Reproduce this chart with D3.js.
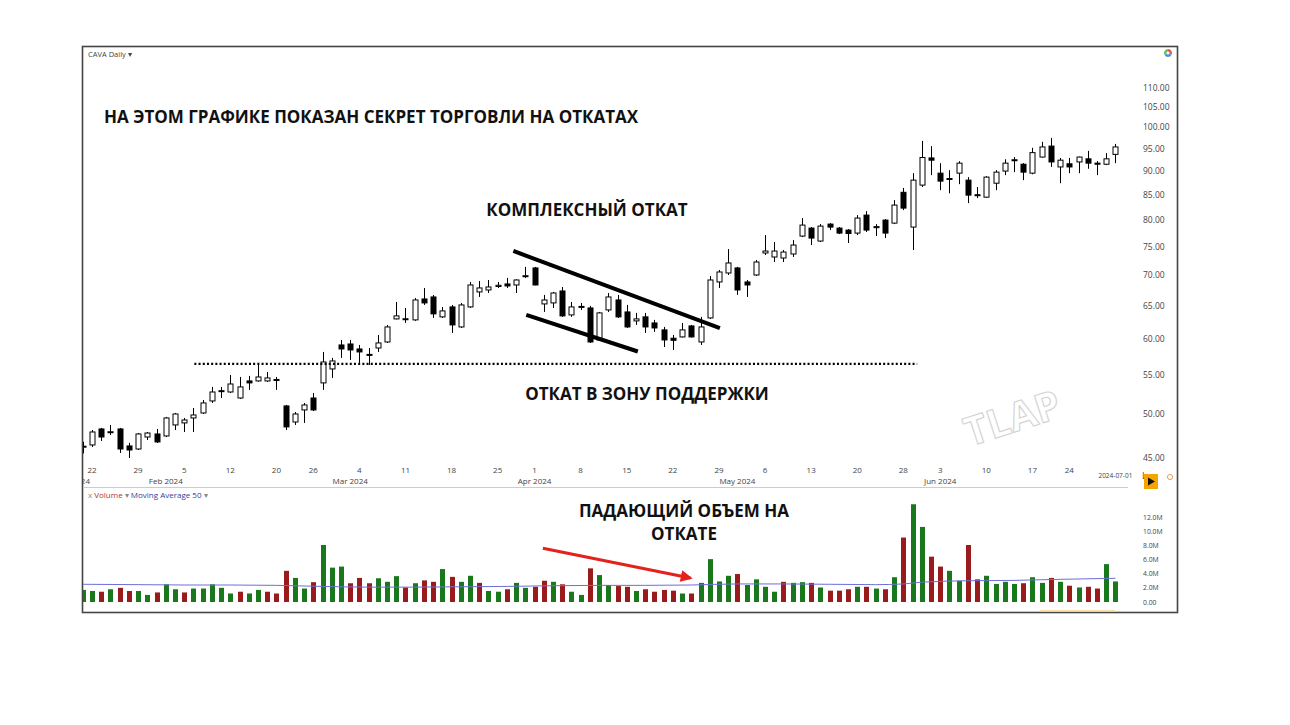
<!DOCTYPE html>
<html>
<head>
<meta charset="utf-8">
<script src="https://cdn.jsdelivr.net/npm/d3@7"></script>
<style>
  body { margin: 0; background: #fff; }
  svg { display: block; }
  .ax { font-family: "Open Sans", "Noto Sans", sans-serif; fill: #444; }
  .note { font-family: "Open Sans", sans-serif; font-weight: 700; fill: #111; }
</style>
</head>
<body>
<script>
// trading days shown on the chart (first one is clipped at the left edge)
var dates = [
  "2024-01-19","2024-01-22","2024-01-23","2024-01-24","2024-01-25","2024-01-26","2024-01-29","2024-01-30","2024-01-31",
  "2024-02-01","2024-02-02","2024-02-05","2024-02-06","2024-02-07","2024-02-08","2024-02-09","2024-02-12","2024-02-13",
  "2024-02-14","2024-02-15","2024-02-16","2024-02-20","2024-02-21","2024-02-22","2024-02-23","2024-02-26","2024-02-27",
  "2024-02-28","2024-02-29","2024-03-01","2024-03-04","2024-03-05","2024-03-06","2024-03-07","2024-03-08","2024-03-11",
  "2024-03-12","2024-03-13","2024-03-14","2024-03-15","2024-03-18","2024-03-19","2024-03-20","2024-03-21","2024-03-22",
  "2024-03-25","2024-03-26","2024-03-27","2024-03-28","2024-04-01","2024-04-02","2024-04-03","2024-04-04","2024-04-05",
  "2024-04-08","2024-04-09","2024-04-10","2024-04-11","2024-04-12","2024-04-15","2024-04-16","2024-04-17","2024-04-18",
  "2024-04-19","2024-04-22","2024-04-23","2024-04-24","2024-04-25","2024-04-26","2024-04-29","2024-04-30","2024-05-01",
  "2024-05-02","2024-05-03","2024-05-06","2024-05-07","2024-05-08","2024-05-09","2024-05-10","2024-05-13","2024-05-14",
  "2024-05-15","2024-05-16","2024-05-17","2024-05-20","2024-05-21","2024-05-22","2024-05-23","2024-05-24","2024-05-28",
  "2024-05-29","2024-05-30","2024-05-31","2024-06-03","2024-06-04","2024-06-05","2024-06-06","2024-06-07","2024-06-10",
  "2024-06-11","2024-06-12","2024-06-13","2024-06-14","2024-06-17","2024-06-18","2024-06-20","2024-06-21","2024-06-24",
  "2024-06-25","2024-06-26","2024-06-27","2024-06-28","2024-07-01"
];

var open = [46.2,46.44,48.27,47.85,48.27,46.33,45.99,47.34,47.69,47.46,48.74,48.98,49.57,50.17,51.65,52.85,52.78,52.02,
  54.21,54.21,54.21,54.4,51.03,49.09,50.54,52.02,53.95,55.8,59.13,59.27,58.56,57.8,58.7,59.56,62.97,62.9,62.82,66.08,
  66.4,63.28,64.82,61.76,64.82,67.21,67.53,68.1,68.52,68.35,69.8,71.22,65.29,65.45,67.37,63.58,64.8,64.66,59.85,64.35,
  65.92,64.04,62.67,63.28,62.36,61.32,60.1,60.29,61.91,59.56,63.12,68.85,70.36,71.22,68.85,70.02,73.84,73.13,72.95,
  73.66,76.92,78.42,76.0,79.18,78.42,78.04,77.48,80.92,78.5,79.95,79.37,85.5,78.61,87.0,92.9,89.55,88.2,89.55,88.05,
  85.0,84.5,87.4,90.0,92.3,91.5,89.55,93.1,95.6,90.9,91.6,92.0,92.7,91.74,91.5,93.7];
var high = [46.8,48.15,48.39,48.74,48.39,46.67,47.8,47.92,48.27,49.69,50.17,49.57,50.78,51.77,53.43,53.43,55.0,54.73,
  54.87,56.34,55.4,54.73,51.15,50.29,51.4,52.65,58.14,57.31,59.85,59.85,59.13,58.7,60.58,62.06,65.6,64.66,66.24,67.86,
  66.72,64.82,65.13,65.45,68.85,69.01,69.18,68.85,69.52,69.3,71.4,71.4,66.72,67.21,68.02,65.6,65.45,64.98,64.04,67.04,
  66.72,65.13,63.89,63.89,62.82,61.76,60.58,62.36,62.06,63.28,69.85,70.87,74.55,71.4,69.18,72.6,77.11,75.82,74.37,
  76.18,80.34,78.61,79.18,79.37,78.61,78.23,80.92,81.7,79.18,80.14,83.9,86.4,89.55,96.8,95.6,91.74,90.2,92.18,88.7,
  86.6,88.9,90.2,92.6,93.1,91.74,95.2,96.6,97.5,92.9,92.9,93.2,94.5,92.2,94.0,96.1];
var low = [45.5,46.21,46.89,47.57,45.55,45.0,45.88,47.0,46.67,47.34,48.15,47.92,47.92,50.05,51.4,52.02,52.65,51.9,
  53.04,54.1,54.08,53.04,48.15,48.74,48.98,50.4,53.04,54.6,57.31,57.03,56.62,56.34,58.14,59.42,62.9,62.36,62.67,65.13,
  63.12,63.12,60.87,61.61,64.66,66.4,67.04,67.86,67.86,67.04,69.52,68.3,64.04,64.66,63.28,63.28,64.35,59.42,59.7,64.04,
  63.12,61.61,62.06,60.87,61.02,58.84,58.42,60.2,60.2,59.13,62.97,67.86,70.02,66.72,66.4,69.85,73.48,72.25,72.25,
  73.13,76.73,75.27,75.82,78.04,77.29,75.64,77.11,77.67,76.92,76.55,79.18,81.9,74.37,86.6,89.12,85.95,85.3,87.2,83.3,
  84.3,84.4,85.95,89.12,89.77,88.05,89.3,93.0,90.9,87.4,89.55,89.55,90.5,89.12,91.3,91.74];
var close = [46.3,47.92,47.34,47.95,45.99,45.88,47.69,47.8,46.78,49.57,50.05,49.33,49.93,51.4,52.78,52.95,53.81,53.43,
  53.95,54.73,54.6,54.3,48.51,50.05,51.15,50.54,56.75,56.89,58.56,58.42,58.14,57.7,59.42,61.76,63.43,63.0,65.92,65.45,
  63.74,64.2,62.06,65.13,68.35,67.86,68.02,68.3,68.19,69.18,69.9,68.35,65.92,67.04,63.43,64.82,64.9,59.56,63.89,66.4,
  63.28,61.76,62.97,61.76,61.61,59.85,59.8,61.32,60.29,61.76,69.18,70.53,72.08,67.53,68.35,72.25,74.19,74.19,74.01,
  75.27,78.99,76.55,78.8,78.61,77.48,77.4,80.34,78.04,78.7,77.48,82.9,82.3,88.05,93.0,92.4,87.84,88.4,91.74,84.92,
  84.8,88.7,89.77,91.74,92.5,89.77,94.1,95.4,92.0,92.4,90.9,93.1,91.74,91.5,92.7,95.4];
// volume in millions
var volume = [1.7,1.55,1.45,1.8,2.0,1.55,1.55,1.0,1.35,2.5,1.8,1.35,1.9,1.9,2.5,2.0,1.2,1.45,1.2,1.7,1.45,1.2,4.4,3.4,
  1.9,2.8,8.05,4.85,5.0,2.65,3.4,2.65,3.35,2.85,3.65,2.05,2.65,3.05,2.85,4.65,3.55,2.85,3.7,2.7,1.55,1.45,1.8,2.7,2.0,
  2.15,3.0,2.85,2.5,1.45,1.0,4.75,3.8,2.4,2.25,2.15,1.55,1.8,1.45,1.7,1.6,1.2,1.2,2.7,6.05,2.9,3.7,3.95,2.4,3.2,2.15,
  1.45,2.85,2.7,2.8,2.7,2.05,1.6,1.6,1.8,2.15,2.15,1.9,1.8,3.5,9.1,13.8,10.6,6.4,5.0,4.4,3.0,8.05,3.2,3.7,2.55,2.85,
  2.55,2.65,3.5,2.7,3.4,2.85,2.3,2.05,2.15,1.9,5.35,2.9];
// 50-day volume average, read at a few days (index into dates, millions)
var maDay = [0,6,11,16,21,26,31,36,41,46,51,56,61,66,71,76,81,86,89,91,96,101,106,112];
var maVol = [2.5,2.45,2.4,2.4,2.35,2.2,2.1,2.1,2.15,2.2,2.3,2.35,2.35,2.4,2.55,2.55,2.5,2.45,2.55,2.8,3.0,3.05,3.2,3.35];

var priceTicks = [45,50,55,60,65,70,75,80,85,90,95,100,105,110];
var volTicks = [0,2,4,6,8,10,12];
var dayTicks = ["2024-01-22","2024-01-29","2024-02-05","2024-02-12","2024-02-20","2024-02-26","2024-03-04","2024-03-11",
  "2024-03-18","2024-03-25","2024-04-01","2024-04-08","2024-04-15","2024-04-22","2024-04-29","2024-05-06","2024-05-13",
  "2024-05-20","2024-05-28","2024-06-03","2024-06-10","2024-06-17","2024-06-24"];
var monthTicks = ["2024-02-01","2024-03-01","2024-04-01","2024-05-01","2024-06-03"];
var monthLabels = ["Feb 2024","Mar 2024","Apr 2024","May 2024","Jun 2024"];

// annotation geometry: [day index, price] and [day index, volume]
var upperTrend = [[46.7, 74.2], [69.1, 61.6]];
var lowerTrend = [[48.1, 63.6], [60.2, 58.2]];
var supportLevel = 56.5, supportFrom = 12.1, supportTo = 90.5;
var volArrow = [[49.9, 7.6], [65.9, 3.4]];

var svg = d3.select("body").append("svg").attr("width", 1290).attr("height", 725);

var x = d3.scaleLinear().domain([0, dates.length - 1]).range([82.8, 1115.4]);
var y = d3.scaleLog().domain([45, 110]).range([458, 88]);
var yv = d3.scaleLinear().domain([0, 12]).range([602, 517]);
var idx = function(d){ return dates.indexOf(d); };

var defs = svg.append("defs");
defs.append("clipPath").attr("id", "cp").append("rect").attr("x", 83).attr("y", 47).attr("width", 1045).attr("height", 440);
defs.append("clipPath").attr("id", "cv").append("rect").attr("x", 83).attr("y", 488).attr("width", 1045).attr("height", 124);
defs.append("marker").attr("id", "ah").attr("viewBox", "0 0 10 10").attr("refX", 8).attr("refY", 5)
  .attr("markerWidth", 4).attr("markerHeight", 4).attr("orient", "auto")
  .append("path").attr("d", "M0,0L10,5L0,10z").attr("fill", "#e3221c");

// frame
svg.append("rect").attr("x", 82.5).attr("y", 46.5).attr("width", 1095).attr("height", 566)
  .attr("fill", "#fff").attr("stroke", "#444").attr("stroke-width", 1.6);
svg.append("line").attr("x1", 83).attr("x2", 1128).attr("y1", 487.5).attr("y2", 487.5).attr("stroke", "#ccc");

svg.append("text").attr("class", "ax").attr("x", 88).attr("y", 57).attr("font-size", 7.5).text("CAVA Daily  \u25BE");

// watermark
svg.append("text").attr("x", 1013).attr("y", 432).attr("text-anchor", "middle")
  .attr("transform", "rotate(-18,1013,420)")
  .attr("font-family", "Open Sans, sans-serif").attr("font-size", 40).attr("font-weight", 700)
  .attr("fill", "none").attr("stroke", "#d2d2d2").attr("stroke-width", 1.1).text("TLAP");

// price axis
svg.append("g").selectAll("text").data(priceTicks).join("text").attr("class", "ax")
  .attr("x", 1143).attr("y", function(d){ return y(d) + 3; }).attr("font-size", 8.5).attr("fill", "#333")
  .text(function(d){ return d.toFixed(2); });

// date axis
var g = svg.append("g").attr("clip-path", "url(#cp)");
g.selectAll(".dt").data(dayTicks).join("text").attr("class", "ax")
  .attr("x", function(d){ return x(idx(d)); }).attr("y", 473).attr("font-size", 8).attr("text-anchor", "middle")
  .text(function(d){ return +d.slice(8); });
g.selectAll(".mt").data(monthTicks).join("text").attr("class", "ax")
  .attr("x", function(d){ return x(idx(d)); }).attr("y", 484).attr("font-size", 8).attr("text-anchor", "middle")
  .text(function(d, i){ return monthLabels[i]; });
g.append("text").attr("class", "ax").attr("x", 90).attr("y", 484).attr("font-size", 8).attr("text-anchor", "end").text("Jan 2024");
svg.append("text").attr("class", "ax").attr("x", x(dates.length - 1)).attr("y", 478).attr("font-size", 6.5)
  .attr("text-anchor", "middle").text(dates[dates.length - 1]);
svg.append("text").attr("class", "ax").attr("x", 1142).attr("y", 479).attr("font-size", 9).attr("fill", "#999").text("Log");
svg.append("rect").attr("x", 1144).attr("y", 474).attr("width", 14).attr("height", 15).attr("fill", "#f5a400");
svg.append("path").attr("d", "M1148,477.5L1155,481.5L1148,485.5z").attr("fill", "#111");
svg.append("circle").attr("cx", 1170).attr("cy", 477).attr("r", 2.6).attr("fill", "none").attr("stroke", "#f0a050");
// settings badge, top right
[["#e8574a", 0], ["#4c8fdc", 120], ["#6cbf5a", 240]].forEach(function(s){
  svg.append("path").attr("transform", "translate(1168,53)")
    .attr("d", d3.arc().innerRadius(1.5).outerRadius(4).startAngle(s[1] * Math.PI / 180).endAngle((s[1] + 120) * Math.PI / 180)())
    .attr("fill", s[0]);
});

// candles
var c = g.selectAll(".cd").data(dates).join("g");
c.append("line").attr("x1", function(d, i){ return Math.round(x(i)) + 0.5; })
  .attr("x2", function(d, i){ return Math.round(x(i)) + 0.5; })
  .attr("y1", function(d, i){ return y(high[i]); }).attr("y2", function(d, i){ return y(low[i]); })
  .attr("stroke", "#000").attr("stroke-width", 1);
c.append("rect").attr("x", function(d, i){ return Math.round(x(i)) - 2; }).attr("width", 5)
  .attr("y", function(d, i){ return y(Math.max(open[i], close[i])); })
  .attr("height", function(d, i){ return Math.max(1, Math.abs(y(open[i]) - y(close[i]))); })
  .attr("fill", function(d, i){ return close[i] >= open[i] ? "#fff" : "#000"; })
  .attr("stroke", "#000").attr("stroke-width", 1);

// support line and trend lines
g.append("line").attr("x1", x(supportFrom)).attr("x2", x(supportTo))
  .attr("y1", y(supportLevel)).attr("y2", y(supportLevel))
  .attr("stroke", "#000").attr("stroke-width", 2.2).attr("stroke-dasharray", "2,2.2");
[upperTrend, lowerTrend].forEach(function(t){
  svg.append("line").attr("x1", x(t[0][0])).attr("y1", y(t[0][1])).attr("x2", x(t[1][0])).attr("y2", y(t[1][1]))
    .attr("stroke", "#000").attr("stroke-width", 4);
});

// volume panel
var gv = svg.append("g").attr("clip-path", "url(#cv)");
gv.selectAll("rect").data(volume).join("rect")
  .attr("x", function(d, i){ return Math.round(x(i)) - 2; }).attr("width", 5)
  .attr("y", function(d){ return yv(d); }).attr("height", function(d){ return yv(0) - yv(d); })
  .attr("fill", function(d, i){ return i > 0 && close[i] < close[i - 1] ? "#9a1b1b" : "#18781b"; });
gv.append("path").datum(maDay).attr("fill", "none").attr("stroke", "#6d6fd6").attr("stroke-width", 1)
  .attr("d", d3.line().x(function(d){ return x(d); }).y(function(d, i){ return yv(maVol[i]); }).curve(d3.curveMonotoneX));
svg.append("g").selectAll("text").data(volTicks).join("text").attr("class", "ax")
  .attr("x", 1143).attr("y", function(d){ return yv(d) + 2.5; }).attr("font-size", 6.8).attr("fill", "#8b1e1e")
  .text(function(d){ return d === 0 ? "0.00" : d.toFixed(1) + "M"; });
svg.append("line").attr("x1", 1040).attr("x2", 1115).attr("y1", 611).attr("y2", 611).attr("stroke", "#f6d58c").attr("stroke-width", 1.5);

var lg = svg.append("text").attr("class", "ax").attr("x", 88).attr("y", 498).attr("font-size", 8);
lg.append("tspan").attr("fill", "#888").text("x  ");
lg.append("tspan").attr("fill", "#b03030").text("Volume");
lg.append("tspan").attr("fill", "#888").text("  \u25BE  ");
lg.append("tspan").attr("fill", "#3a3a9a").text("Moving Average 50");
lg.append("tspan").attr("fill", "#888").text("  \u25BE");

// red arrow
svg.append("line").attr("x1", x(volArrow[0][0])).attr("y1", yv(volArrow[0][1]))
  .attr("x2", x(volArrow[1][0])).attr("y2", yv(volArrow[1][1]))
  .attr("stroke", "#e3221c").attr("stroke-width", 3).attr("marker-end", "url(#ah)");

// notes
function note(t, px, py, anchor){
  svg.append("text").attr("class", "note").attr("x", px).attr("y", py).attr("font-size", 17)
    .attr("text-anchor", anchor || "start").text(t);
}
note("НА ЭТОМ ГРАФИКЕ ПОКАЗАН СЕКРЕТ ТОРГОВЛИ НА ОТКАТАХ", 104, 123);
note("КОМПЛЕКСНЫЙ ОТКАТ", 587, 216, "middle");
note("ОТКАТ В ЗОНУ ПОДДЕРЖКИ", 647, 400, "middle");
note("ПАДАЮЩИЙ ОБЪЕМ НА", 684, 517, "middle");
note("ОТКАТЕ", 684, 540, "middle");
</script>
</body>
</html>
